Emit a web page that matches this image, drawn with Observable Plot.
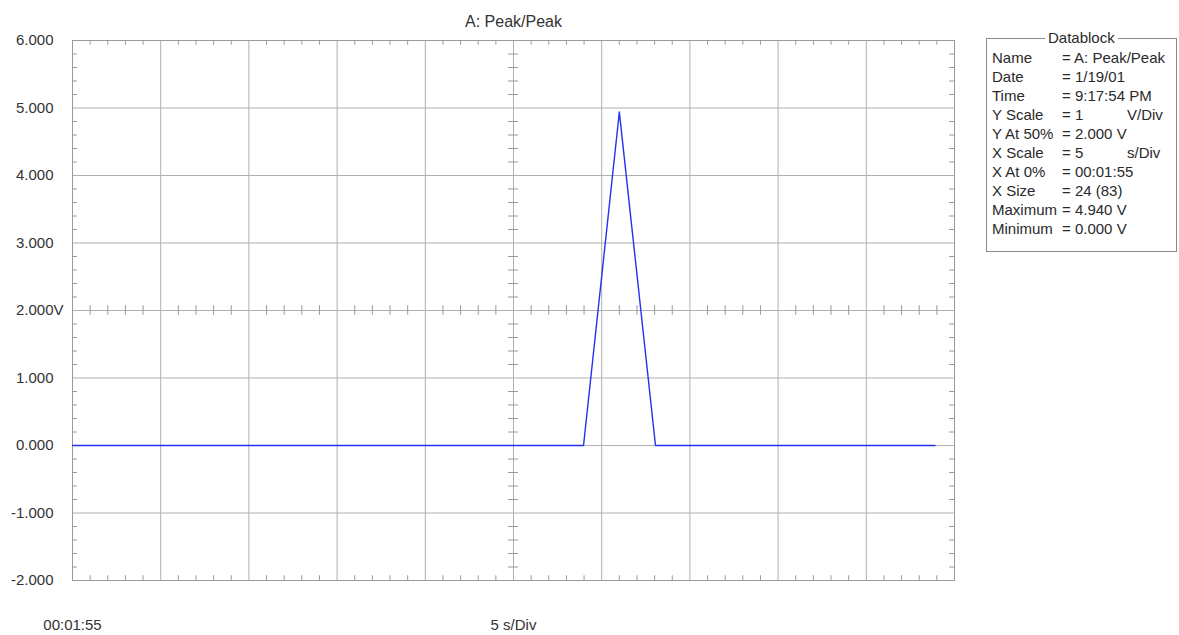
<!DOCTYPE html>
<html>
<head>
<meta charset="utf-8">
<script src="https://cdn.jsdelivr.net/npm/d3@7"></script>
<script src="https://cdn.jsdelivr.net/npm/@observablehq/plot@0.6"></script>
<style>
  html, body { margin: 0; padding: 0; background: #fff; }
  #wrap { position: relative; width: 1179px; height: 635px; overflow: hidden; font-family: "Liberation Sans", Arial, sans-serif; }
  #chart { position: absolute; left: 0; top: 0; }
  #db { position: absolute; left: 986px; top: 38px; width: 191px; height: 214px; border: 1px solid #8a8a8a; box-sizing: border-box; font-size: 15px; color: #2a2a2a; }
  #db .lg { position: absolute; top: -10px; left: 58px; background: #fff; padding: 0 3px; line-height: 18px; }
  #db .rows { position: absolute; left: 5px; top: 9px; }
  #db .row { height: 19px; line-height: 19px; white-space: nowrap; position: relative; }
  #db .k { display: inline-block; width: 70px; }
  #db .u { position: absolute; left: 135px; top: 0; }
</style>
</head>
<body>
<div id="wrap">
  <div id="chart"></div>
  <div id="db"><span class="lg">Datablock</span><div class="rows"></div></div>
</div>
<script>
// ---- data ----
const times  = [0, 28.97, 31.0, 33.05, 48.9];   // seconds from 00:01:55
const volts  = [0, 0, 4.94, 0, 0];               // V
const xMajor = [0, 5, 10, 15, 20, 25, 30, 35, 40, 45, 50];
const yMajor = [-2, -1, 0, 1, 2, 3, 4, 5, 6];
const yTickLabels = ["-2.000", "-1.000", "0.000", "1.000", "2.000", "3.000", "4.000", "5.000", "6.000"];
const title = "A: Peak/Peak";
const xStartLabel = "00:01:55";
const xScaleLabel = "5 s/Div";
const dbLabels = ["Name", "Date", "Time", "Y Scale", "Y At 50%", "X Scale", "X At 0%", "X Size", "Maximum", "Minimum"];
const dbValues = ["A: Peak/Peak", "1/19/01", "9:17:54 PM", "1", "2.000 V", "5", "00:01:55", "24 (83)", "4.940 V", "0.000 V"];
const dbUnits  = ["", "", "", "V/Div", "", "s/Div", "", "", "", ""];

// minor tick positions (1/5 division)
const xMinor = d3.range(0, 50.001, 1).filter(d => d % 5 !== 0);
const yMinor = d3.range(-2, 6.001, 0.2).map(d => +d.toFixed(1)).filter(d => Math.abs(d - Math.round(d)) > 1e-6);

const data = times.map((t, i) => ({t, v: volts[i]}));
const ty = 0.07;   // minor tick length in y units
const tx = 0.28;   // minor tick length in x units
const tickStroke = "#9a9a9a";

const chart = Plot.plot({
  width: 980,
  height: 635,
  marginLeft: 72,
  marginRight: 26,
  marginTop: 40,
  marginBottom: 55,
  style: {fontFamily: "'Liberation Sans', Arial, sans-serif", fontSize: "15px", color: "#333", background: "#fff"},
  x: {domain: [0, 50], axis: null},
  y: {domain: [-2, 6], axis: null},
  marks: [
    Plot.gridX(xMajor, {stroke: "#b0b0b0", strokeOpacity: 1}),
    Plot.gridY(yMajor, {stroke: "#b0b0b0", strokeOpacity: 1}),
    Plot.ruleX(xMinor, {y1: -2, y2: -2 + ty, stroke: tickStroke}),
    Plot.ruleX(xMinor, {y1: 6, y2: 6 - ty, stroke: tickStroke}),
    Plot.ruleX(xMinor, {y1: 2 - ty, y2: 2 + ty, stroke: tickStroke}),
    Plot.ruleY(yMinor, {x1: 0, x2: tx, stroke: tickStroke}),
    Plot.ruleY(yMinor, {x1: 50 - tx, x2: 50, stroke: tickStroke}),
    Plot.ruleY(yMinor, {x1: 25 - tx, x2: 25 + tx, stroke: tickStroke}),
    Plot.frame({stroke: "#9a9a9a"}),
    Plot.line(data, {x: "t", y: "v", stroke: "#2430f0", strokeWidth: 1.4}),
    Plot.axisY(yMajor, {label: null, tickSize: 0, tickPadding: 19, tickFormat: d => yTickLabels[yMajor.indexOf(d)], fill: "#333", fontSize: 15}),
    Plot.text(["V"], {x: 0, y: 2, dx: -19, textAnchor: "start", fill: "#333", fontSize: 15}),
    Plot.text([title], {frameAnchor: "top", dy: -25, fill: "#333", fontSize: 16}),
    Plot.text([xStartLabel], {x: 0, y: -2, dy: 45, textAnchor: "middle", fill: "#333", fontSize: 15}),
    Plot.text([xScaleLabel], {x: 25, y: -2, dy: 45, textAnchor: "middle", fill: "#333", fontSize: 15})
  ]
});
document.getElementById("chart").appendChild(chart);

// datablock
const rows = document.querySelector("#db .rows");
dbLabels.forEach((k, i) => {
  const r = document.createElement("div");
  r.className = "row";
  const ks = document.createElement("span"); ks.className = "k"; ks.textContent = k;
  const vs = document.createElement("span"); vs.textContent = "= " + dbValues[i];
  r.appendChild(ks); r.appendChild(vs);
  if (dbUnits[i]) { const u = document.createElement("span"); u.className = "u"; u.textContent = dbUnits[i]; r.appendChild(u); }
  rows.appendChild(r);
});
</script>
</body>
</html>
